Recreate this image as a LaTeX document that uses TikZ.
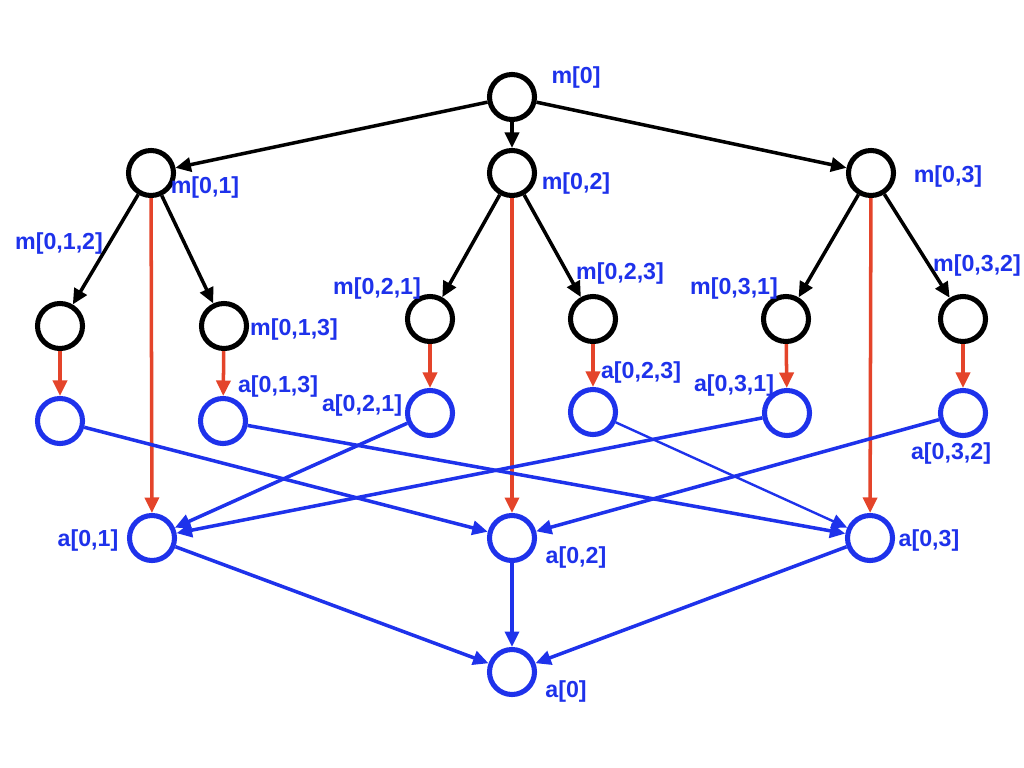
\documentclass[tikz,border=0pt]{standalone}
\usepackage{fontspec}
\setmainfont{Liberation Sans}
\usetikzlibrary{arrows.meta}
\definecolor{mblue}{RGB}{30,50,235}
\definecolor{mred}{RGB}{228,68,42}
\tikzset{
  mnode/.style={circle, draw=black, line width=3.6pt, minimum size=1.125cm, inner sep=0pt},
  anode/.style={circle, draw=mblue, line width=3.6pt, minimum size=1.125cm, inner sep=0pt},
  lab/.style={text=mblue, font=\bfseries\fontsize{16.5}{17}\selectfont, inner sep=0pt},
  tip/.style={-{Triangle[length=11pt,width=10pt]}},
  bedge/.style={tip, draw=black, line width=2.5pt},
  redge/.style={tip, draw=mred, line width=2.5pt},
  aedge/.style={tip, draw=mblue, line width=2.5pt},
  thinedge/.style={tip, draw=mblue, line width=1.7pt},
}
\begin{document}
\begin{tikzpicture}[x=0.025cm, y=-0.025cm]
\useasboundingbox (0,0) rectangle (1024,768);
% m nodes
\node[mnode] (m0) at (512,97) {};
\node[mnode] (m01) at (151,173) {};
\node[mnode] (m02) at (512,173) {};
\node[mnode] (m03) at (871,173) {};
\node[mnode] (m012) at (60,326) {};
\node[mnode] (m013) at (224,326) {};
\node[mnode] (m021) at (430,319) {};
\node[mnode] (m023) at (593,319) {};
\node[mnode] (m031) at (786,319) {};
\node[mnode] (m032) at (963,319) {};
% a nodes
\node[anode] (a012) at (60,421) {};
\node[anode] (a013) at (223,421) {};
\node[anode] (a021) at (430,413) {};
\node[anode] (a023) at (593,412) {};
\node[anode] (a031) at (787,413) {};
\node[anode] (a032) at (963,413) {};
\node[anode] (a01) at (152,538) {};
\node[anode] (a02) at (512,538) {};
\node[anode] (a03) at (870,538) {};
\node[anode] (a0) at (512,672) {};
% labels
\node[lab] (lm0) at (576,78) {m[0]};
\node[lab] (lm01) at (205,188) {m[0,1]};
\node[lab] (lm02) at (576,184) {m[0,2]};
\node[lab] (lm03) at (948,177) {m[0,3]};
\node[lab] (lm012) at (59,243) {m[0,1,2]};
\node[lab] (lm013) at (294,329) {m[0,1,3]};
\node[lab] (lm021) at (377,288) {m[0,2,1]};
\node[lab] (lm023) at (620,273) {m[0,2,3]};
\node[lab] (lm031) at (734,288) {m[0,3,1]};
\node[lab] (lm032) at (977,265) {m[0,3,2]};
\node[lab] (la013) at (278,386) {a[0,1,3]};
\node[lab] (la021) at (362,405) {a[0,2,1]};
\node[lab] (la023) at (641,372) {a[0,2,3]};
\node[lab] (la031) at (734,385) {a[0,3,1]};
\node[lab] (la032) at (951,453) {a[0,3,2]};
\node[lab] (la01) at (88,540) {a[0,1]};
\node[lab] (la02) at (576,557) {a[0,2]};
\node[lab] (la03) at (929,540) {a[0,3]};
\node[lab] (la0) at (566,691) {a[0]};
% black edges
\draw[bedge] (m0) -- (m01);
\draw[bedge] (m0) -- (m02);
\draw[bedge] (m0) -- (m03);
\draw[bedge] (m01) -- (m012);
\draw[bedge] (m01) -- (m013);
\draw[bedge] (m02) -- (m021);
\draw[bedge] (m02) -- (m023);
\draw[bedge] (m03) -- (m031);
\draw[bedge] (m03) -- (m032);
% red edges
\draw[redge] (m012) -- (a012);
\draw[redge] (m013) -- (a013);
\draw[redge] (m021) -- (a021);
\draw[redge] (m023) -- (a023);
\draw[redge] (m031) -- (a031);
\draw[redge] (m032) -- (a032);
\draw[redge] (m01) -- (a01);
\draw[redge] (m02) -- (a02);
\draw[redge] (m03) -- (a03);
% blue edges
\draw[aedge] (a012) -- (a02);
\draw[aedge] (a013) -- (a03);
\draw[aedge] (a021) -- (a01);
\draw[thinedge] (a023) -- (a03);
\draw[aedge] (a031) -- (a01);
\draw[aedge] (a032) -- (a02);
\draw[aedge] (a01) -- (a0);
\draw[aedge] (a02) -- (a0);
\draw[aedge] (a03) -- (a0);
\end{tikzpicture}
\end{document}
